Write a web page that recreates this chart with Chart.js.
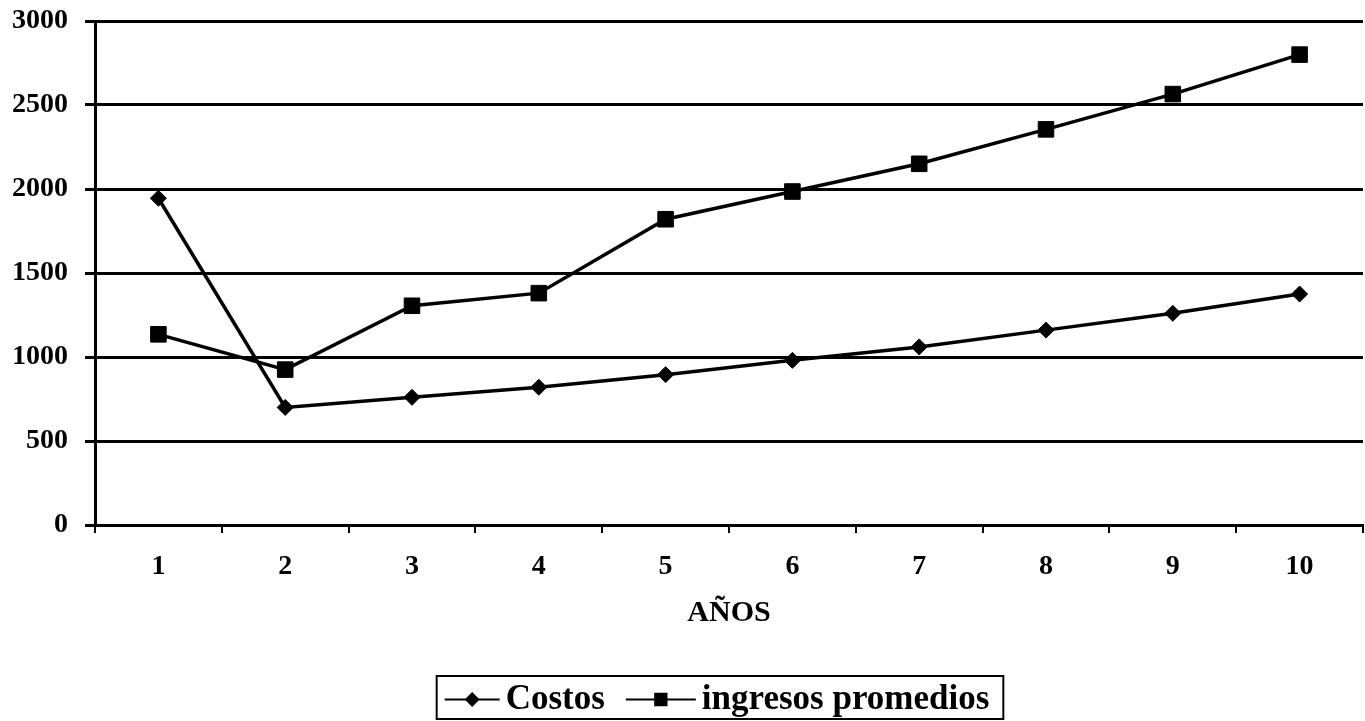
<!DOCTYPE html>
<html>
<head>
<meta charset="utf-8">
<script src="https://cdn.jsdelivr.net/npm/chart.js@4.4.0/dist/chart.umd.min.js"></script>
<style>
  html, body { margin: 0; padding: 0; background: #fff; }
  #wrap { width: 1365px; height: 721px; }
</style>
</head>
<body>
<div id="wrap"><canvas id="myChart" width="1365" height="721"></canvas></div>
<script>
// data
var years = ['1', '2', '3', '4', '5', '6', '7', '8', '9', '10']
var costos = [1945, 700, 760, 820, 895, 980, 1060, 1160, 1260, 1375]
var ingresos = [1135, 925, 1305, 1380, 1820, 1985, 2150, 2355, 2565, 2800]
var yTicks = [0, 500, 1000, 1500, 2000, 2500, 3000]
var xTitle = 'AÑOS'

var serif = "'Liberation Serif', 'Times New Roman', serif"

// legend in a framed box under the axis title, like the scanned original
var boxLegend = {
    id: 'boxLegend',
    afterDraw(chart) {
        const ctx = chart.ctx
        const sets = chart.data.datasets
        const lineLens = [55, 70], gapText = 6, gapItem = 21, padL = 8, padR = 14
        ctx.save()
        ctx.font = 'bold 35px ' + serif
        let total = padL + padR
        sets.forEach((ds, i) => {
            total += lineLens[i] + gapText + ctx.measureText(ds.label).width
            if (i < sets.length - 1) total += gapItem
        })
        const area = chart.chartArea
        const cx = (area.left + area.right) / 2 - 9
        const top = 676, h = 43
        let x = cx - total / 2
        ctx.lineWidth = 2
        ctx.strokeStyle = '#000'
        ctx.strokeRect(x, top, total, h)
        x += padL
        const midY = top + h / 2 + 2
        sets.forEach((ds, i) => {
            ctx.lineWidth = 2
            ctx.beginPath()
            ctx.moveTo(x, midY)
            ctx.lineTo(x + lineLens[i], midY)
            ctx.stroke()
            ctx.fillStyle = '#000'
            Chart.helpers.drawPoint(ctx, {
                pointStyle: ds.pointStyle,
                radius: ds.pointStyle === 'rect' ? 8 : 6,
                rotation: 0,
                borderWidth: 1
            }, x + lineLens[i] / 2, midY)
            ctx.fillStyle = '#000'
            ctx.textBaseline = 'middle'
            ctx.textAlign = 'left'
            ctx.fillText(ds.label, x + lineLens[i] + gapText, midY)
            x += lineLens[i] + gapText + ctx.measureText(ds.label).width + gapItem
        })
        ctx.restore()
    }
}

var ctx = document.getElementById('myChart').getContext('2d')
var myChart = new Chart(ctx, {
    type: 'line',
    data: {
        labels: years,
        datasets: [{
            label: 'Costos',
            data: costos,
            borderColor: '#000',
            backgroundColor: '#000',
            borderWidth: 3.5,
            pointStyle: 'rectRot',
            pointRadius: 8,
            pointBorderWidth: 1,
            tension: 0
        }, {
            label: 'ingresos promedios',
            data: ingresos,
            borderColor: '#000',
            backgroundColor: '#000',
            borderWidth: 3.5,
            pointStyle: 'rect',
            pointRadius: 11,
            pointBorderWidth: 1,
            tension: 0
        }]
    },
    options: {
        responsive: false,
        animation: false,
        devicePixelRatio: 1,
        layout: { autoPadding: false, padding: { top: 21, right: 2, bottom: 90, left: 0 } },
        plugins: {
            legend: { display: false },
            tooltip: { enabled: false }
        },
        scales: {
            x: {
                offset: true,
                grid: {
                    offset: true,
                    drawOnChartArea: false,
                    drawTicks: true,
                    tickLength: 8,
                    color: '#000',
                    lineWidth: 2
                },
                border: { color: '#000', width: 3 },
                ticks: {
                    color: '#000',
                    padding: 17,
                    font: { family: serif, weight: 'bold', size: 28 }
                },
                title: {
                    display: true,
                    text: xTitle,
                    color: '#000',
                    padding: 0,
                    font: { family: serif, weight: 'bold', size: 30 }
                },
                afterFit(scale) { scale.height = 106 }
            },
            y: {
                min: yTicks[0],
                max: yTicks[yTicks.length - 1],
                afterBuildTicks(scale) { scale.ticks = yTicks.map(v => ({ value: v })) },
                grid: {
                    color: '#000',
                    lineWidth: 3,
                    tickLength: 10
                },
                border: { color: '#000', width: 3 },
                ticks: {
                    color: '#000',
                    padding: 17,
                    font: { family: serif, weight: 'bold', size: 28 },
                    callback: function (value) { return String(value) }
                },
                afterFit(scale) {
                    scale.width = 95
                    // keep the label overflow from pushing the plot down
                    scale.paddingTop = 0
                    scale.paddingBottom = 0
                }
            }
        }
    },
    plugins: [boxLegend]
})
</script>
</body>
</html>
